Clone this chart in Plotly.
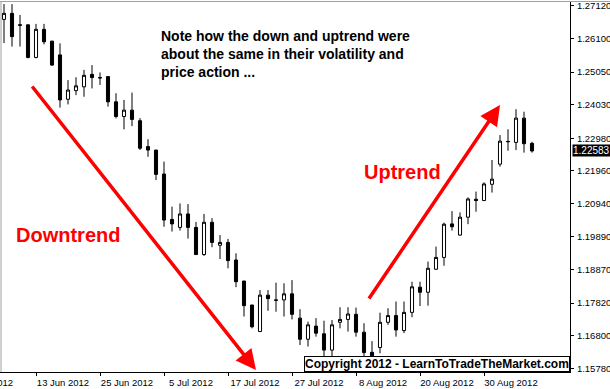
import plotly.graph_objects as go

# ---------------- data (daily bars, 7 Jun - 7 Sep 2012) ----------------
opens = [1.2670, 1.2689, 1.2653, 1.2653, 1.2551, 1.2639, 1.2602, 1.2559, 1.2420, 1.2447,
         1.2459, 1.2498, 1.2488, 1.2491, 1.2412, 1.2366, 1.2386, 1.2353, 1.2272, 1.2261,
         1.2186, 1.2044, 1.2019, 1.2061, 1.2019, 1.1934, 1.2035, 1.1963, 1.1972, 1.1917,
         1.1851, 1.1776, 1.1693, 1.1807, 1.1792, 1.1792, 1.1811, 1.1735, 1.1669, 1.1710,
         1.1686, 1.1635, 1.1722, 1.1731, 1.1747, 1.1691, 1.1628, 1.1643, 1.1722, 1.1743,
         1.1696, 1.1753, 1.1832, 1.1816, 1.1888, 1.1925, 1.2030, 1.1995, 1.2051, 1.2107,
         1.2103, 1.2154, 1.2217, 1.2287, 1.2285, 1.2361, 1.2282]
highs = [1.2718, 1.2718, 1.2684, 1.2654, 1.2656, 1.2656, 1.2603, 1.2595, 1.2480, 1.2489,
         1.2512, 1.2527, 1.2504, 1.2492, 1.2439, 1.2418, 1.2441, 1.2361, 1.2295, 1.2262,
         1.2225, 1.2084, 1.2094, 1.2092, 1.2036, 1.2061, 1.2048, 1.1995, 1.1983, 1.1938,
         1.1852, 1.1777, 1.1823, 1.1823, 1.1846, 1.1844, 1.1854, 1.1763, 1.1724, 1.1735,
         1.1727, 1.1729, 1.1769, 1.1769, 1.1768, 1.1719, 1.1663, 1.1752, 1.1766, 1.1787,
         1.1787, 1.1849, 1.1849, 1.1912, 1.1959, 1.2034, 1.2070, 1.2066, 1.2113, 1.2131,
         1.2160, 1.2230, 1.2308, 1.2326, 1.2389, 1.2381, 1.2287]
lows = [1.2596, 1.2585, 1.2585, 1.2548, 1.2548, 1.2592, 1.2525, 1.2394, 1.2404, 1.2433,
        1.2428, 1.2454, 1.2465, 1.2397, 1.2360, 1.2326, 1.2336, 1.2261, 1.2240, 1.2167,
        1.2021, 1.2006, 1.2009, 1.1984, 1.1933, 1.1930, 1.1957, 1.1920, 1.1891, 1.1832,
        1.1740, 1.1703, 1.1692, 1.1758, 1.1755, 1.1740, 1.1731, 1.1651, 1.1646, 1.1677,
        1.1604, 1.1604, 1.1703, 1.1693, 1.1677, 1.1609, 1.1611, 1.1625, 1.1714, 1.1677,
        1.1688, 1.1738, 1.1773, 1.1774, 1.1886, 1.1899, 1.2009, 1.1993, 1.2029, 1.2068,
        1.2102, 1.2128, 1.2209, 1.2259, 1.2261, 1.2253, 1.2253]
closes = [1.2689, 1.2616, 1.2652, 1.2551, 1.2639, 1.2600, 1.2527, 1.2418, 1.2449, 1.2462,
          1.2495, 1.2488, 1.2487, 1.2412, 1.2366, 1.2386, 1.2357, 1.2267, 1.2261, 1.2185,
          1.2042, 1.2030, 1.2061, 1.2019, 1.1934, 1.2035, 1.1972, 1.1972, 1.1915, 1.1849,
          1.1774, 1.1708, 1.1807, 1.1796, 1.1791, 1.1811, 1.1747, 1.1669, 1.1714, 1.1688,
          1.1635, 1.1714, 1.1731, 1.1748, 1.1691, 1.1627, 1.1617, 1.1722, 1.1743, 1.1698,
          1.1753, 1.1833, 1.1816, 1.1891, 1.1925, 1.2029, 1.2021, 1.2051, 1.2108, 1.2103,
          1.2155, 1.2170, 1.2289, 1.2288, 1.2361, 1.2281, 1.22583]
bar_index = list(range(len(opens)))

date_tick_bars = [4, 12, 20, 28, 36, 44, 52, 60]
date_tick_labels = ["13 Jun 2012", "25 Jun 2012", "5 Jul 2012", "17 Jul 2012",
                    "27 Jul 2012", "8 Aug 2012", "20 Aug 2012", "30 Aug 2012"]
partial_date_label = "1 Jun 2012"

price_ticks = [1.27120, 1.26100, 1.25050, 1.24030, 1.22980, 1.21960,
               1.20940, 1.19890, 1.18870, 1.17820, 1.16800, 1.15780]
last_price = 1.22583

note_text = ("Note how the down and uptrend were<br>"
             "about the same in their volatility and<br>"
             "price action ...")
copyright_text = "Copyright 2012 - LearnToTradeTheMarket.com"

# ---------------- layout geometry ----------------
W, H = 610, 389
ML, MR, MT, MB = 0, 40, 2, 17
PW, PH = W - ML - MR, H - MT - MB
X_RANGE = [-0.5, 70.75]
Y_RANGE = [1.15664, 1.27245]


def px_x(px):
    return (px - ML) / PW


def px_y(py):
    return 1 - (py - MT) / PH


AXFONT = dict(family="Liberation Sans, Arial, sans-serif", size=9.5, color="black")

fig = go.Figure(go.Candlestick(
    x=bar_index, open=opens, high=highs, low=lows, close=closes,
    increasing=dict(line=dict(color="black", width=1), fillcolor="white"),
    decreasing=dict(line=dict(color="black", width=1), fillcolor="black"),
    whiskerwidth=0, hoverinfo="skip", showlegend=False,
))

annotations = [
    dict(text=note_text, xref="paper", yref="paper", x=px_x(159), y=px_y(26),
         xanchor="left", yanchor="top", align="left", showarrow=False,
         font=dict(family="Liberation Sans, Arial, sans-serif", size=14, color="black", weight="bold")),
    dict(text="Downtrend", xref="paper", yref="paper", x=px_x(14), y=px_y(235),
         xanchor="left", yanchor="middle", showarrow=False,
         font=dict(family="Liberation Sans, Arial, sans-serif", size=20, color="#ff0000", weight="bold")),
    dict(text="Uptrend", xref="paper", yref="paper", x=px_x(362), y=px_y(172),
         xanchor="left", yanchor="middle", showarrow=False,
         font=dict(family="Liberation Sans, Arial, sans-serif", size=20, color="#ff0000", weight="bold")),
    # trend arrows
    dict(text="", xref="paper", yref="paper", x=px_x(256), y=px_y(370),
         ax=31 - 256, ay=85 - 370, showarrow=True, arrowhead=2, arrowsize=1.15,
         arrowwidth=3.5, arrowcolor="#ff0000"),
    dict(text="", xref="paper", yref="paper", x=px_x(500), y=px_y(105),
         ax=368 - 500, ay=300 - 105, showarrow=True, arrowhead=2, arrowsize=1.15,
         arrowwidth=3.5, arrowcolor="#ff0000"),
    # copyright box
    dict(text=copyright_text, xref="paper", yref="paper", x=1, y=0,
         xanchor="right", yanchor="bottom", showarrow=False,
         bgcolor="white", bordercolor="black", borderwidth=1, borderpad=0,
         font=dict(family="Liberation Sans, Arial, sans-serif", size=12, color="black", weight="bold")),
    # current price marker
    dict(text=f"{last_price:.5f}", xref="paper", yref="y", x=1, y=last_price,
         xanchor="left", yanchor="middle", xshift=2, showarrow=False,
         bgcolor="black", borderpad=0,
         font=dict(family="Liberation Sans, Arial, sans-serif", size=10, color="white")),
    # cut-off date label at the left edge
    dict(text=partial_date_label, xref="paper", yref="paper", x=px_x(15), y=0,
         xanchor="right", yanchor="top", yshift=-3, showarrow=False, font=AXFONT),
]

shapes = [
    dict(type="line", xref="paper", yref="paper", x0=0, x1=W / PW, y0=px_y(1.5), y1=px_y(1.5),
         line=dict(color="#a0a0a0", width=1)),
    dict(type="line", xref="paper", yref="paper", x0=px_x(1), x1=px_x(1), y0=0, y1=px_y(1.5),
         line=dict(color="#a0a0a0", width=1)),
]

fig.update_layout(
    width=W, height=H, autosize=False,
    margin=dict(l=ML, r=MR, t=MT, b=MB, pad=0),
    paper_bgcolor="white", plot_bgcolor="white",
    boxgap=0.45, showlegend=False, hovermode=False,
    annotations=annotations, shapes=shapes,
    xaxis=dict(range=X_RANGE, rangeslider=dict(visible=False), showgrid=False, zeroline=False,
               showline=True, linecolor="black", linewidth=1,
               ticks="outside", ticklen=3, tickcolor="black", tickwidth=1,
               tickvals=date_tick_bars, ticktext=date_tick_labels,
               ticklabelshift=27, ticklabelstandoff=-1, tickfont=AXFONT, fixedrange=True),
    yaxis=dict(range=Y_RANGE, side="right", showgrid=False, zeroline=False,
               showline=True, linecolor="black", linewidth=1,
               ticks="outside", ticklen=3, tickcolor="black", tickwidth=1,
               tickvals=price_ticks, ticktext=[f"{v:.5f}" for v in price_ticks],
               ticklabelstandoff=1, tickfont=AXFONT, fixedrange=True),
)

fig.write_html("out.html", config={"displayModeBar": False},
               post_script="document.body.style.margin='0';document.body.style.overflow='hidden';")
